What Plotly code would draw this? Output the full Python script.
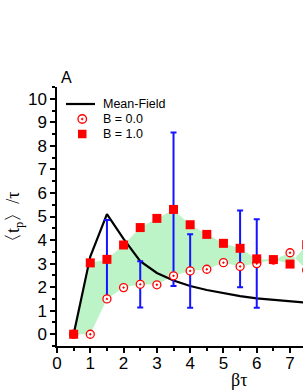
import plotly.graph_objects as go

# ---- data ----
beta_tau = [0.5, 1.0, 1.5, 2.0, 2.5, 3.0, 3.5, 4.0, 4.5, 5.0, 5.5, 6.0, 6.5, 7.0, 7.5]
b0_vals = [0.0, 0.0, 1.5, 1.98, 2.12, 2.1, 2.48, 2.69, 2.76, 3.04, 2.88, 3.0, 3.15, 3.46, 2.72]
b1_vals = [0.0, 3.03, 3.18, 3.79, 4.53, 4.92, 5.3, 4.65, 4.24, 3.86, 3.65, 3.2, 3.17, 2.98, 3.8]

mf_x = [0.5, 1.0, 1.5, 2.0, 2.5, 3.0, 3.5, 4.0, 4.5, 5.0, 5.5, 6.0, 6.5, 7.0, 7.5, 8.0]
mf_y = [0.0, 3.3, 5.1, 4.05, 3.1, 2.6, 2.28, 2.05, 1.88, 1.74, 1.62, 1.52, 1.45, 1.39, 1.33, 1.28]

err_x = [1.5, 2.5, 3.5, 4.0, 5.5, 6.0]
err_lo = [1.5, 1.13, 2.05, 1.12, 2.0, 1.12]
err_hi = [4.85, 3.1, 8.57, 4.25, 5.25, 4.88]

x_ticks = [0, 1, 2, 3, 4, 5, 6, 7]
y_ticks = [0, 1, 2, 3, 4, 5, 6, 7, 8, 9, 10]

legend_names = ["Mean-Field", "B = 0.0", "B = 1.0"]

W, H = 303, 392
L, R, T, B = 57, 0, 87, 46

def px_x(p):
    return (p - L) / (W - L - R)

def px_y(p):
    return (H - B - p) / (H - T - B)

fig = go.Figure()

# shaded band between B=1.0 and B=0.0
fig.add_trace(go.Scatter(x=beta_tau, y=b1_vals, mode="lines", line=dict(width=0),
                         showlegend=False, hoverinfo="skip"))
fig.add_trace(go.Scatter(x=beta_tau, y=b0_vals, mode="lines", line=dict(width=0),
                         fill="tonexty", fillcolor="rgb(188,244,200)",
                         showlegend=False, hoverinfo="skip"))

# mean-field line
fig.add_trace(go.Scatter(x=mf_x, y=mf_y, mode="lines", name=legend_names[0],
                         line=dict(color="black", width=2.2), showlegend=False))

# error bars
mid = [(a + b) / 2 for a, b in zip(err_lo, err_hi)]
half = [(b - a) / 2 for a, b in zip(err_lo, err_hi)]
fig.add_trace(go.Scatter(x=err_x, y=mid, mode="markers", marker=dict(size=0.1, color="rgba(0,0,0,0)"),
                         error_y=dict(type="data", array=half, visible=True, color="rgb(20,20,255)",
                                      thickness=2, width=3),
                         showlegend=False, hoverinfo="skip"))

fig.add_trace(go.Scatter(x=beta_tau, y=b0_vals, mode="markers", name=legend_names[1],
                         marker=dict(symbol="circle-dot", size=8, color="white",
                                     line=dict(color="red", width=1.3)), showlegend=False))
fig.add_trace(go.Scatter(x=beta_tau, y=b1_vals, mode="markers", name=legend_names[2],
                         marker=dict(symbol="square", size=9, color="red",
                                     line=dict(width=0)), showlegend=False))

font_tick = dict(family="Liberation Sans, Arial, sans-serif", size=17, color="black")

fig.update_xaxes(range=[0, (W - L) / 33.29], tickvals=x_ticks, ticktext=[str(v) for v in x_ticks],
                 showline=True, linecolor="black", linewidth=1.5, showgrid=False, zeroline=False,
                 ticks="outside", ticklen=5, tickwidth=1.5, tickcolor="black", tickfont=font_tick,
                 ticklabelstandoff=-4,
                 minor=dict(tickvals=[v + 0.5 for v in x_ticks], ticks="outside", ticklen=3,
                            tickwidth=1.5, tickcolor="black"))
fig.update_yaxes(range=[-0.5, 10.5], tickvals=y_ticks, ticktext=[str(v) for v in y_ticks],
                 showline=True, linecolor="black", linewidth=1.5, showgrid=False, zeroline=False,
                 ticks="outside", ticklen=5, tickwidth=1.5, tickcolor="black", tickfont=font_tick,
                 minor=dict(tickvals=[v + 0.5 for v in y_ticks[:-1]] + [-0.5, 10.5], ticks="outside",
                            ticklen=3, tickwidth=1.5, tickcolor="black"))

# manual legend (compact row spacing like the reference)
leg_font = dict(family="Liberation Sans, Arial, sans-serif", size=12.5, color="black")
rows_y = [104, 119, 134]
shapes = [
    dict(type="line", xref="paper", yref="paper", x0=px_x(66), x1=px_x(95),
         y0=px_y(rows_y[0]), y1=px_y(rows_y[0]), line=dict(color="black", width=2.2)),
    dict(type="circle", xref="paper", yref="paper", x0=px_x(78), x1=px_x(86.5),
         y0=px_y(rows_y[1] + 4.25), y1=px_y(rows_y[1] - 4.25),
         line=dict(color="red", width=1.3), fillcolor="white"),
    dict(type="circle", xref="paper", yref="paper", x0=px_x(81.4), x1=px_x(83.1),
         y0=px_y(rows_y[1] + 0.85), y1=px_y(rows_y[1] - 0.85),
         line=dict(color="red", width=0.8), fillcolor="red"),
    dict(type="rect", xref="paper", yref="paper", x0=px_x(78), x1=px_x(86.5),
         y0=px_y(rows_y[2] + 4.25), y1=px_y(rows_y[2] - 4.25),
         line=dict(width=0), fillcolor="red"),
]
annotations = [
    dict(text=name, x=px_x(101), y=px_y(ry), xref="paper", yref="paper", showarrow=False,
         xanchor="left", yanchor="middle", font=leg_font)
    for name, ry in zip(legend_names, rows_y)
]
annotations += [
    dict(text="A", x=px_x(66), y=px_y(77), xref="paper", yref="paper", showarrow=False,
         xanchor="center", yanchor="middle",
         font=dict(family="Liberation Sans, Arial, sans-serif", size=16, color="black")),
    dict(text="βτ", x=px_x(239), y=px_y(380), xref="paper", yref="paper", showarrow=False,
         xanchor="center", yanchor="middle",
         font=dict(family="Liberation Serif, Times New Roman, serif", size=18, color="black")),
    dict(text="〈t<sub>p</sub>〉/τ", x=px_x(14), y=px_y(221), xref="paper", yref="paper",
         showarrow=False, textangle=-90, xanchor="center", yanchor="middle",
         font=dict(family="Liberation Serif, Times New Roman, serif", size=18, color="black")),
]

fig.update_layout(
    width=W, height=H,
    margin=dict(l=L, r=R, t=T, b=B, pad=0),
    paper_bgcolor="white", plot_bgcolor="white",
    font=dict(family="Liberation Sans, Arial, sans-serif", color="black"),
    showlegend=False,
    shapes=shapes,
    annotations=annotations,
)

fig.write_html("out.html", config={"displayModeBar": False},
               post_script="document.body.style.margin='0px';")
